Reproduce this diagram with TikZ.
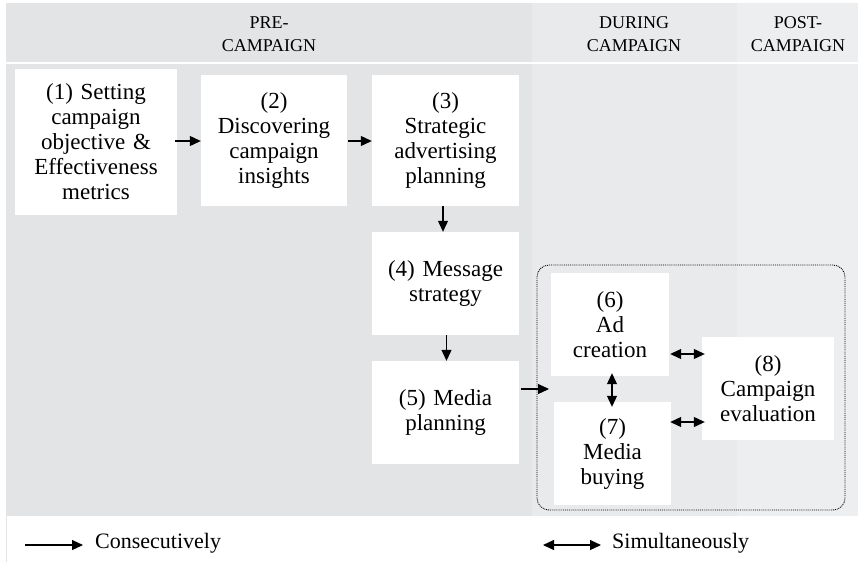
\documentclass[tikz,border=0pt]{standalone}
\usepackage{fontspec}
\setmainfont{Liberation Serif}
\usetikzlibrary{arrows.meta}
\definecolor{preg}{RGB}{227,228,230}
\definecolor{durg}{RGB}{233,234,236}
\definecolor{postg}{RGB}{237,238,239}
\begin{document}
\begin{tikzpicture}[x=1pt,y=-1pt,
  box/.style={fill=white, draw=none, align=center, inner sep=0pt, font=\fontsize{23}{25}\selectfont},
  hdr/.style={align=center, font=\fontsize{18}{22.5}\selectfont, inner sep=0pt},
  legtext/.style={anchor=base west, inner sep=0pt, font=\fontsize{22}{24}\selectfont},
  con/.style={-{Triangle[length=11pt,width=10pt]}, line width=1.1pt},
  sim/.style={{Triangle[length=11pt,width=10pt]}-{Triangle[length=11pt,width=10pt]}, line width=1.1pt},
  grpbox/.style={draw, densely dotted, rounded corners=12pt, line width=0.9pt, inner sep=0pt}]
\useasboundingbox (0,0) rectangle (858,566);
\fill[white] (0,0) rectangle (858,566);
% background columns
\fill[preg] (6,3) rectangle (532,516);
\fill[durg] (532,3) rectangle (737,516);
\fill[postg] (737,3) rectangle (858,516);
\draw[white, line width=2pt] (6,63) -- (858,63);
\draw[preg, line width=1pt] (6.5,516) -- (6.5,562);
% headers
\node[hdr] (hpre) at (269,34) {PRE-\\CAMPAIGN};
\node[hdr] (hdur) at (634,34) {DURING\\CAMPAIGN};
\node[hdr] (hpost) at (798,34) {POST-\\CAMPAIGN};
% group
\node[grpbox, minimum width=308pt, minimum height=245pt] (grp) at (691,387.5) {};
% boxes
\node[box, minimum width=162pt, minimum height=146pt, text width=156pt] (b1) at (96,142) {(1) Setting\\campaign\\objective \&\\Effectiveness\\metrics};
\node[box, minimum width=146pt, minimum height=131pt, text width=140pt] (b2) at (274,140.5) {(2)\\Discovering\\campaign\\insights};
\node[box, minimum width=147pt, minimum height=131pt, text width=141pt] (b3) at (445.5,140.5) {(3)\\Strategic\\advertising\\planning};
\node[box, minimum width=147pt, minimum height=103pt, text width=141pt] (b4) at (445.5,283.5) {(4) Message\\strategy};
\node[box, minimum width=147pt, minimum height=103pt, text width=141pt] (b5) at (445.5,412.5) {(5) Media\\planning};
\node[box, minimum width=118pt, minimum height=103pt, text width=112pt] (b6) at (610,324.5) {(6)\\Ad\\creation};
\node[box, minimum width=117pt, minimum height=103pt, text width=112pt] (b7) at (612.5,453.5) {(7)\\Media\\buying};
\node[box, minimum width=132pt, minimum height=103pt, text width=128pt] (b8) at (768,388.5) {(8)\\Campaign\\evaluation};
% consecutive arrows
\draw[con, shorten <=-2pt] (b1.east |- 0,141) -- (b2.west |- 0,141);
\draw[con, shorten <=1pt] (b2.east |- 0,141) -- (b3.west |- 0,141);
\draw[con] (b3.south -| 443,0) -- (b4.north -| 443,0);
\draw[con] (b4.south -| 446.5,0) -- (b5.north -| 446.5,0);
\coordinate (g5) at (549,389);
\draw[con, shorten <=2pt] (b5.east |- g5) -- (g5);
% simultaneous arrows
\draw[sim, shorten <=-3pt, shorten >=-5pt] (b6.south -| 612,0) -- (b7.north -| 612,0);
\draw[sim, shorten <=1pt, shorten >=-3pt] (b6.east |- 0,354) -- (b8.west |- 0,354);
\draw[sim, shorten <=-1pt, shorten >=-3pt] (b7.east |- 0,422) -- (b8.west |- 0,422);
% legend
\node[legtext] (lc) at (95,548) {Consecutively};
\node[legtext] (ls) at (612,548) {Simultaneously};
\coordinate (c1) at (25,545);
\coordinate (s1) at (543,545);
\draw[con, shorten >=12pt] (c1) -- (c1 -| lc.west);
\draw[sim, shorten >=11pt] (s1) -- (s1 -| ls.west);
\end{tikzpicture}
\end{document}
